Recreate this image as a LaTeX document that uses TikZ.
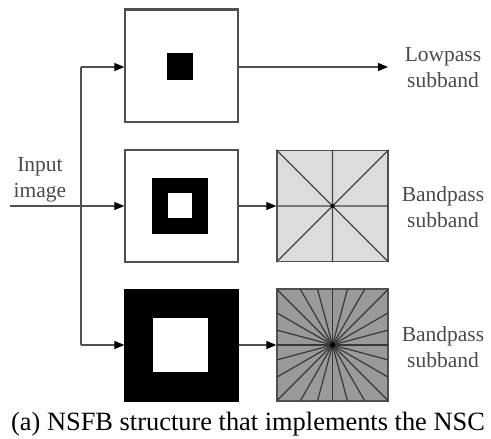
\documentclass[tikz,border=0pt]{standalone}
\usepackage{fontspec}
\setmainfont{Liberation Serif}
\usetikzlibrary{arrows.meta}
\definecolor{ln}{HTML}{505050}
\definecolor{tx}{HTML}{4A4A4A}
\definecolor{lgray}{HTML}{DCDCDC}
\definecolor{mgray}{HTML}{9A9A9A}
\begin{document}
\begin{tikzpicture}[x=1pt,y=-1pt,
  box/.style={draw=ln,line width=1.4pt,inner sep=0pt,minimum width=113pt,minimum height=112pt},
  sq/.style={inner sep=0pt,draw=none},
  conn/.style={draw=ln,line width=1.2pt},
  arr/.style={conn,-{Triangle[length=10pt,width=8pt,color=black]}},
  lbl/.style={text=tx,align=center,font=\fontsize{21.5}{26}\selectfont,inner sep=0pt}]
\useasboundingbox (0,0) rectangle (491,439);
% boxes
\node[box] (b1) at (181.5,66) {};
\draw[ln,line width=2.2pt] (b1.north west) -- (b1.north east);
\node[box] (b2) at (181.5,206) {};
\node[box,fill=black,draw=black] (b3) at (181.5,345.5) {};
\node[box,fill=lgray,minimum width=111pt,minimum height=111pt] (b4) at (332.5,206) {};
\node[box,fill=mgray,minimum width=111pt,minimum height=112pt] (b5) at (332.5,345) {};
% inner squares
\node[sq,fill=black,minimum width=26pt,minimum height=27pt] (s1) at (180,66.5) {};
\node[sq,fill=black,minimum width=56pt,minimum height=56pt] (s2) at (180,206) {};
\node[sq,fill=white,minimum width=24pt,minimum height=25pt] (s2i) at (180,205.5) {};
\node[sq,fill=white,minimum width=55pt,minimum height=54pt] (s3i) at (180.5,345) {};
% wedges box4
\draw[ln!85!black,line width=1.2pt] (b4.north west) -- (b4.south east)
  (b4.north east) -- (b4.south west)
  (b4.north) -- (b4.south) (b4.west) -- (b4.east);
\fill[black] (b4.center) circle (2pt);
% wedges box5
\begin{scope}
\clip (b5.north west) rectangle (b5.south east);
\foreach \a in {0,15,...,165}
  \draw[ln!70!black,line width=1.2pt] (b5.center) ++(\a:100) -- ++(\a+180:200);
\end{scope}
\draw[ln,line width=1.4pt] (b5.north west) rectangle (b5.south east);
\fill[black] (b5.center) circle (2.8pt);
% connectors
\coordinate (in) at (10,206);
\coordinate (top) at (81,67);
\coordinate (bot) at (81,345);
\coordinate (lpend) at (388,67);
\draw[arr] (in) -- (b2.west);
\draw[conn] (top) -- (bot);
\draw[arr] (top) -- (b1.west |- top);
\draw[arr] (bot) -- (b3.west |- bot);
\draw[arr] (b1.east |- top) -- (lpend);
\draw[arr] (b2.east) -- (b4.west |- b2.east);
\draw[arr] (b3.east |- bot) -- (b5.west |- bot);
% labels
\node[lbl] (inlab) at (40,180) {Input\\image};
\node[lbl] (lp) at (443,68) {Lowpass\\subband};
\node[lbl] (bp1) at (443,207) {Bandpass\\subband};
\node[lbl] (bp2) at (443,347) {Bandpass\\subband};
\node[text=black,inner sep=0pt,font=\fontsize{26.4}{30}\selectfont,anchor=base] (cap) at (248,430) {(a) NSFB structure that implements the NSC};
\end{tikzpicture}
\end{document}
